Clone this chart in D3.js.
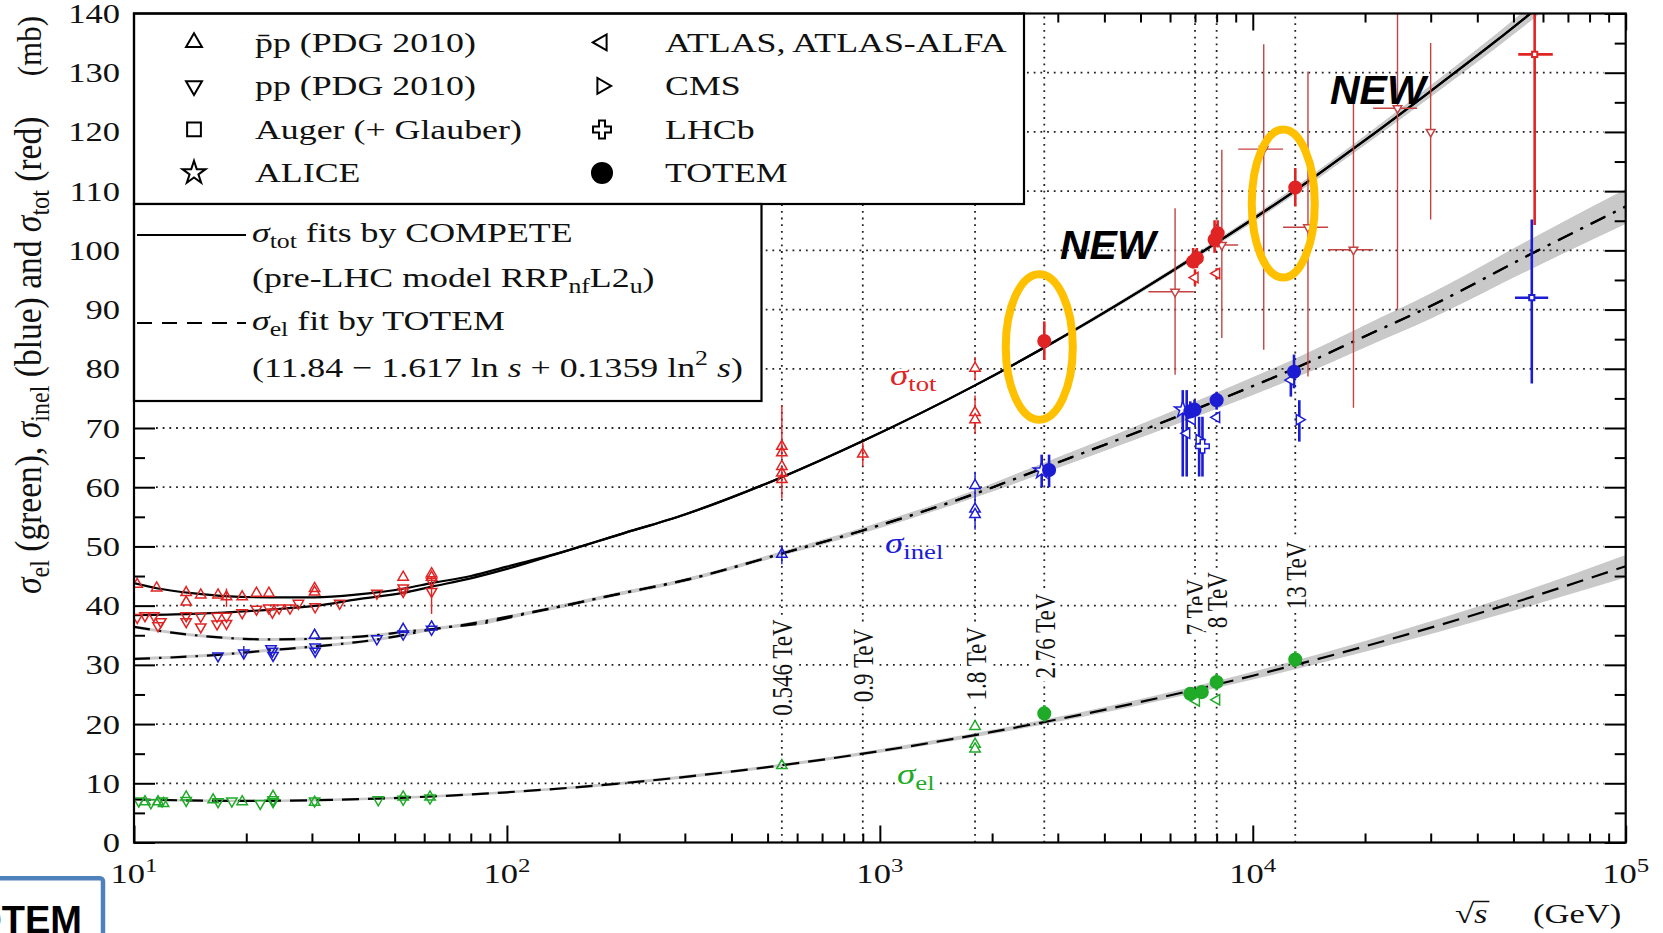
<!DOCTYPE html>
<html>
<head>
<meta charset="utf-8">
<script src="https://cdn.jsdelivr.net/npm/d3@7"></script>
<style>
  body { margin: 0; background: #fff; }
  svg { display: block; }
</style>
</head>
<body>
<svg id="chart" width="1663" height="933"></svg>
<script>
// ---------------------------------------------------------------
// Data: sqrt(s) in GeV, cross sections in mb
// ---------------------------------------------------------------

// Energies of the marked collider runs and their labels
const runEnergies = [546, 900, 1800, 2760, 7000, 8000, 13000];
const runLabels = ["0.546 TeV", "0.9 TeV", "1.8 TeV", "2.76 TeV", "7 TeV", "8 TeV", "13 TeV"];

// Axis ticks
const yTickValues = d3.range(0, 141, 10);
const yMinorValues = d3.range(5, 140, 10);
const xDecades = [1, 2, 3, 4, 5];

// Fitted curves: [sqrt(s), sigma, half-width of uncertainty band]
const totPbarPLow = [[10, 43.8, 0], [11.6, 42.9, 0], [14.3, 42.1, 0], [17.5, 41.6, 0], [22.9, 41.4, 0],
  [30.5, 41.4, 0], [40, 41.9, 0], [53, 42.9, 0], [62.8, 43.8, 0], [80, 45.0, 0], [100, 46.6, 0]];
const totPPLow = [[10, 38.4, 0], [14.3, 38.6, 0], [22.9, 39.3, 0], [30.5, 39.95, 0], [40, 41.1, 0],
  [53, 42.2, 0], [62.8, 43.2, 0], [80, 44.6, 0], [100, 46.2, 0]];
const totHigh = [[140, 49.0, 0], [200, 52.0, 0], [300, 55.4, 0], [546, 61.7, 0], [900, 67.8, 0.05],
  [1800, 77.2, 0.15], [2760, 83.6, 0.25], [5000, 93.2, 0.35], [8000, 101.3, 0.45], [13000, 110.1, 0.6],
  [20000, 118.6, 0.75], [30000, 126.9, 0.95], [45000, 135.4, 1.15], [60000, 141.7, 1.3]];

const inelPbarPLow = [[10, 36.4, 0.25], [14.3, 35.05, 0.25], [22.9, 34.3, 0.25], [30.5, 34.4, 0.25],
  [45.2, 35.05, 0.25], [53.3, 35.6, 0.25], [62.8, 36.0, 0.25], [91, 37.6, 0.25], [100, 38.1, 0.25]];
const inelPPLow = [[10, 31.0, 0.25], [16.8, 31.7, 0.25], [23.5, 32.5, 0.25], [30.5, 33.1, 0.25],
  [45, 34.3, 0.25], [53, 35.05, 0.25], [62.8, 36.0, 0.25], [91, 37.3, 0.25], [100, 37.9, 0.25]];
const inelHigh = [[140, 39.9, 0.3], [200, 42.0, 0.3], [300, 44.3, 0.3], [546, 48.8, 0.35], [900, 52.7, 0.45],
  [1800, 58.9, 0.6], [2760, 63.3, 0.85], [5000, 69.5, 1.1], [8000, 74.6, 1.35], [13000, 80.1, 1.6],
  [20000, 85.5, 1.85], [30000, 90.6, 2.1], [55000, 99.2, 2.5], [100000, 107.4, 2.9]];

const elCurve = [[10, 7.27, 0.2], [20, 7.03, 0.2], [30, 7.13, 0.2], [50, 7.51, 0.2], [100, 8.48, 0.2],
  [200, 9.96, 0.25], [500, 12.73, 0.25], [1000, 15.44, 0.3], [2000, 18.67, 0.35], [5000, 23.73, 0.5],
  [10000, 28.17, 0.65], [20000, 33.13, 0.9], [50000, 40.49, 1.35], [100000, 46.66, 1.9]];

// Measurements: [sqrt(s), sigma, marker, sigma low, sigma high, sqrt(s) low, sqrt(s) high]
// markers: u = pbar-p, d = pp, q = Auger, s = ALICE, l = ATLAS, r = CMS, c = LHCb, o = TOTEM
const totPoints = [
  [10.2, 43.6, "u"], [11.5, 43.0, "u"], [13.8, 42.2, "u"], [13.8, 40.6, "u"], [15.1, 41.8, "u"],
  [16.8, 41.8, "u"], [17.7, 41.5, "u", 39.8, 42.9], [19.5, 41.5, "u"], [21.3, 42.1, "u"], [23.0, 42.1, "u"],
  [30.5, 42.9, "u"], [30.5, 42.3, "u"], [52.7, 44.8, "u"], [62.8, 45.4, "u"], [62.8, 44.8, "u"],
  [546, 66.9, "u", 64.8, 73.9], [546, 65.8, "u"], [546, 63.5, "u"], [546, 62.4, "u"], [546, 61.3, "u", 58.1, 63.0],
  [900, 65.6, "u", 63.6, 67.6], [1800, 80.1, "u", 78.1, 82.0], [1800, 72.6, "u", 70.5, 75.5], [1800, 71.4, "u", 69.0, 73.0],
  [10.2, 38.0, "d"], [10.7, 38.3, "d"], [11.3, 38.3, "d"], [11.8, 37.3, "d"], [11.6, 36.6, "d"],
  [13.8, 38.3, "d"], [13.8, 37.3, "d"], [15.1, 38.2, "d"], [15.1, 36.4, "d"], [16.7, 38.2, "d"],
  [16.7, 36.9, "d"], [17.7, 38.2, "d"], [17.7, 37.0, "d"], [19.5, 38.8, "d"], [21.3, 39.4, "d"],
  [23.0, 39.6, "d"], [23.5, 38.9, "d"], [24.5, 39.6, "d"], [26.2, 39.6, "d"], [27.6, 40.4, "d"],
  [30.6, 39.8, "d"], [35.6, 40.4, "d"], [44.8, 42.1, "d"], [52.7, 43.0, "d"], [52.7, 42.4, "d"],
  [62.8, 44.1, "d"], [62.8, 42.4, "d", 38.6, 45.0],
  [6190, 93.0, "d", 79.0, 107.1, 5250, 6950], [8260, 100.9, "d", 85.2, 117.0, 7925, 9140],
  [10700, 117.1, "d", 83.2, 134.8, 9140, 12060], [14060, 103.9, "d", 78.7, 130.2, 12060, 15920],
  [18620, 100.1, "d", 73.4, 124.9, 15920, 21030], [24440, 124.0, "d", 90.0, 148, 21030, 27590],
  [29990, 120.0, "d", 105.2, 135.0],
  [57000, 133.1, "q", 104.3, 150, 51500, 63750],
  [7000, 95.4, "l", 94.0, 96.8], [8000, 96.1, "l", 95.2, 97.0],
  [2760, 84.7, "o", 81.5, 88.0], [6920, 98.1, "o", 97.0, 100.4], [7080, 98.7, "o", 97.0, 100.4],
  [7900, 101.8, "o", 99.6, 105.1], [8050, 102.9, "o", 100.5, 105.1], [13000, 110.6, "o", 107.4, 113.9]
];

const inelPoints = [
  [30.5, 35.0, "u"], [52.7, 36.0, "u"], [62.8, 36.4, "u"],
  [546, 48.7, "u", 47.0, 50.2], [1800, 60.3, "u", 58.0, 62.6], [1800, 56.3, "u", 52.8, 58.0], [1800, 55.4, "u"],
  [16.8, 31.5, "d"], [19.7, 32.0, "d", 31.2, 33.2], [23.3, 32.7, "d"], [23.5, 32.3, "d"], [23.6, 31.6, "d"],
  [30.6, 33.0, "d"], [30.6, 32.3, "d"], [44.8, 34.4, "d"], [52.7, 35.2, "d"], [62.8, 36.0, "d"],
  [56000, 92.0, "q", 77.5, 105.2, 50470, 61960],
  [2716, 62.8, "s", 60.0, 65.5], [6490, 73.1, "s", 61.8, 76.4],
  [6650, 69.1, "l", 61.8, 76.4], [6880, 71.4, "l"], [8000, 71.8, "l", 71.0, 72.6], [12650, 78.1, "l", 75.3, 79.0],
  [7180, 68.0, "r", 61.8, 71.9], [13330, 71.4, "r", 67.7, 74.7],
  [7330, 66.9, "c", 61.8, 71.9],
  [2843, 62.9, "o", 60.0, 65.5], [6800, 72.8, "o", 71.5, 74.5], [6980, 73.1, "o", 71.5, 74.8],
  [8000, 74.7, "o", 73.1, 76.1], [12900, 79.5, "o", 76.7, 82.4]
];

const elPoints = [
  [10.3, 7.0, "d"], [10.7, 6.9, "u"], [11.1, 6.7, "d"], [11.6, 6.9, "u"], [11.9, 7.0, "d"], [12.0, 6.6, "u"],
  [13.8, 7.7, "u"], [13.8, 7.1, "d"], [16.3, 7.2, "u"], [16.8, 6.9, "d"], [18.3, 7.0, "d"], [19.5, 6.9, "u"],
  [21.8, 6.6, "d"], [23.6, 7.8, "u"], [23.6, 7.2, "d"], [23.6, 6.9, "d"], [30.5, 7.0, "d"], [30.5, 6.8, "u"],
  [45.2, 7.2, "d"], [52.7, 7.7, "u"], [52.7, 7.3, "d"], [62.2, 7.5, "d"], [62.2, 7.7, "u"],
  [546, 13.0, "u"], [1800, 19.6, "u"], [1800, 16.6, "u"], [1800, 15.8, "u"],
  [7060, 23.9, "l"], [8000, 24.1, "l"],
  [2760, 21.8, "o", 20.4, 23.2], [6800, 25.1, "o", 24.0, 26.2], [7300, 25.4, "o", 24.3, 26.5],
  [8000, 27.1, "o", 25.7, 28.5], [13000, 30.9, "o", 29.6, 32.3]
];

// Legend entries
const legendMarkers = ["u", "d", "q", "s", "l", "r", "c", "o"];
const legendNames = ["p\u0304p (PDG 2010)", "pp (PDG 2010)", "Auger (+ Glauber)", "ALICE",
  "ATLAS, ATLAS-ALFA", "CMS", "LHCb", "TOTEM"];

// ---------------------------------------------------------------
// Drawing
// ---------------------------------------------------------------
const SX = 1.28;                       // horizontal widening of the serif lettering
const serif = "'Liberation Serif', 'Times New Roman', serif";
const RED = "#e02424", BLUE = "#1c1cd2", GREEN = "#1faa28";

const svg = d3.select("#chart");
svg.append("rect").attr("width", 1663).attr("height", 933).attr("fill", "#fff");

const x = d3.scaleLog().domain([10, 1e5]).range([134, 1625.7]);
const y = d3.scaleLinear().domain([0, 140]).range([842.5, 13.5]);
const [X0, X1] = x.range(), [Y0, Y1] = y.range();

svg.append("defs").append("clipPath").attr("id", "plotArea")
  .append("rect").attr("x", X0).attr("y", Y1).attr("width", X1 - X0).attr("height", Y0 - Y1);

const plot = svg.append("g").attr("clip-path", "url(#plotArea)");

const line = d3.line().x(d => x(d[0])).y(d => y(d[1])).curve(d3.curveMonotoneX);
const band = d3.area().x(d => x(d[0])).y0(d => y(d[1] - d[2])).y1(d => y(d[1] + d[2])).curve(d3.curveMonotoneX);

const totCurves = [totPbarPLow.concat(totHigh), totPPLow.concat(totHigh)];
const inelCurves = [inelPbarPLow.concat(inelHigh), inelPPLow.concat(inelHigh)];

// uncertainty bands
[...totCurves, ...inelCurves, elCurve].forEach(c => {
  plot.append("path").attr("d", band(c)).attr("fill", "#c9c9c9");
});

// dotted grid
const gridStyle = s => s.attr("stroke", "#222").attr("stroke-width", 1.8)
  .attr("stroke-dasharray", "1.8 4.9").attr("fill", "none");
plot.append("g").selectAll("line").data(yTickValues.filter(v => v > 0 && v < 140)).join("line")
  .attr("x1", X0 + 22).attr("x2", X1 - 22).attr("y1", d => y(d)).attr("y2", d => y(d)).call(gridStyle);
plot.append("g").selectAll("line").data(runEnergies).join("line")
  .attr("x1", d => x(d)).attr("x2", d => x(d)).attr("y1", Y0).attr("y2", Y1).call(gridStyle);

// fitted curves
totCurves.forEach(c => plot.append("path").attr("d", line(c)).attr("fill", "none")
  .attr("stroke", "#000").attr("stroke-width", 2.2));
inelCurves.forEach(c => plot.append("path").attr("d", line(c)).attr("fill", "none")
  .attr("stroke", "#000").attr("stroke-width", 2.2).attr("stroke-dasharray", "16 9 2.5 9"));
plot.append("path").attr("d", line(elCurve)).attr("fill", "none")
  .attr("stroke", "#000").attr("stroke-width", 2.2).attr("stroke-dasharray", "17 9");

// marker shapes
function markerPath(m, r) {
  const tri = a0 => "M" + [0, 1, 2].map(i => {
    const a = (a0 + i * 120) * Math.PI / 180;
    return [r * Math.cos(a), r * Math.sin(a)].map(v => v.toFixed(2)).join(",");
  }).join("L") + "Z";
  switch (m) {
    case "u": return tri(-90);
    case "d": return tri(90);
    case "l": return tri(180);
    case "r": return tri(0);
    case "q": return d3.symbol(d3.symbolSquare, (1.45 * r) ** 2)();
    case "s": return d3.symbol(d3.symbolStar, r * r * 2.3)();
    case "c": return d3.symbol(d3.symbolCross, r * r * 2.8)();
    default: return d3.symbol(d3.symbolCircle, Math.PI * r * r)();
  }
}

function drawPoints(points, color) {
  const g = plot.append("g");
  points.forEach(p => {
    const [e, v, m, lo, hi, eLo, eHi] = p;
    const cosmic = m === "d" && e > 1000;
    const lhc = e >= 2000 && !cosmic;
    const w = cosmic ? 1.4 : lhc ? 2.6 : 1.4;
    const c = cosmic ? "#c44444" : color;
    if (lo !== undefined) {
      g.append("line").attr("x1", x(e)).attr("x2", x(e)).attr("y1", y(lo)).attr("y2", y(hi))
        .attr("stroke", c).attr("stroke-width", w);
    }
    if (eLo !== undefined) {
      g.append("line").attr("x1", x(eLo)).attr("x2", x(eHi)).attr("y1", y(v)).attr("y2", y(v))
        .attr("stroke", c).attr("stroke-width", w);
    }
  });
  points.forEach(p => {
    const [e, v, m] = p;
    const cosmic = m === "d" && e > 1000;
    const r = m === "o" ? 6.3 : m === "q" ? 3.6 : cosmic ? 5 : 6;
    g.append("path").attr("d", markerPath(m, r))
      .attr("transform", `translate(${x(e)},${y(v)})`)
      .attr("fill", m === "o" ? color : (e >= 1000 ? "#fff" : "none"))
      .attr("stroke", cosmic ? "#c44444" : color).attr("stroke-width", m === "q" ? 2 : 1.5);
  });
}
drawPoints(totPoints, RED);
drawPoints(inelPoints, BLUE);
drawPoints(elPoints, GREEN);

// helpers for lettering
function rich(sel, parts, F) {
  let shift = 0;
  parts.forEach(p => {
    const target = p.sub ? 0.22 * F : p.sup ? -0.4 * F : 0;
    const ts = sel.append("tspan").text(p.t).attr("dy", target - shift);
    if (p.sub || p.sup) ts.attr("font-size", 0.72 * F);
    if (p.it) ts.attr("font-style", "italic");
    shift = target;
  });
  return sel;
}
function stext(parent, px, py, F, anchor, rotate, widen) {
  return parent.append("text")
    .attr("transform", `translate(${px},${py}) scale(${widen || SX},1)` + (rotate ? " rotate(-90)" : ""))
    .attr("font-family", serif).attr("font-size", F).attr("text-anchor", anchor || "start")
    .attr("fill", "#111");
}

// run-energy labels along the dotted verticals
const runLabelStart = [21.4, 23.7, 24.0, 27.7, 35.0, 36.2, 39.4];
runEnergies.forEach((e, i) => {
  const g = svg.append("g").attr("transform", `translate(${x(e)},${y(runLabelStart[i])}) scale(${SX},1) rotate(-90)`);
  const t = g.append("text").attr("font-family", serif).attr("font-size", 23).attr("dy", "0.36em")
    .attr("fill", "#111").text(runLabels[i]);
  const len = t.node().getComputedTextLength();
  g.insert("rect", "text").attr("x", -3).attr("y", -11).attr("width", len + 6).attr("height", 22).attr("fill", "#fff");
});

// curve names
const nameLabel = (px, py, sub, color) => rich(stext(svg, px, py, 29).attr("fill", color)
  .attr("stroke", "#fff").attr("stroke-width", 5).attr("paint-order", "stroke"),
  [{ t: "σ", it: true }, { t: sub, sub: true }], 29);
nameLabel(890, 385, "tot", RED);
nameLabel(885, 553, "inel", BLUE);
nameLabel(897, 784, "el", GREEN);

// axes ticks (inward)
function tickAxis(axis, values, size, tr) {
  svg.append("g").attr("transform", tr)
    .call(axis.tickValues(values).tickSize(size).tickFormat(""))
    .call(g => g.select(".domain").remove())
    .call(g => g.selectAll("line").attr("stroke", "#000").attr("stroke-width", 2));
}
const xMajor = xDecades.map(k => 10 ** k);
const xMinor = [];
xDecades.slice(0, 4).forEach(k => { for (let j = 2; j <= 9; j++) xMinor.push(j * 10 ** k); });
tickAxis(d3.axisRight(y), yTickValues, 21, `translate(${X0},0)`);
tickAxis(d3.axisRight(y), yMinorValues, 11, `translate(${X0},0)`);
tickAxis(d3.axisLeft(y), yTickValues, 21, `translate(${X1},0)`);
tickAxis(d3.axisLeft(y), yMinorValues, 11, `translate(${X1},0)`);
tickAxis(d3.axisTop(x), xMajor, 17, `translate(0,${Y0})`);
tickAxis(d3.axisTop(x), xMinor, 9, `translate(0,${Y0})`);
tickAxis(d3.axisBottom(x), xMajor, 17, `translate(0,${Y1})`);
tickAxis(d3.axisBottom(x), xMinor, 9, `translate(0,${Y1})`);

// legend boxes
const legTop = Y1, legSep = 204, legRight = 1024, leg2Right = 761.5, leg2Bottom = 401;
svg.append("rect").attr("x", X0).attr("y", legTop).attr("width", legRight - X0).attr("height", legSep - legTop)
  .attr("fill", "#fff").attr("stroke", "#000").attr("stroke-width", 2.2);
svg.append("rect").attr("x", X0).attr("y", legSep).attr("width", leg2Right - X0).attr("height", leg2Bottom - legSep)
  .attr("fill", "#fff").attr("stroke", "#000").attr("stroke-width", 2.2);

const LF = 28;
const rowY = [42.4, 85.9, 129.4, 172.9];
legendMarkers.forEach((m, i) => {
  const col = Math.floor(i / 4), row = i % 4;
  const sx = [194, 602][col], tx = [255, 665][col];
  const r = m === "o" ? 10 : m === "q" ? 9.5 : m === "s" ? 8.5 : m === "c" ? 8 : 9.2;
  svg.append("path").attr("d", markerPath(m, r)).attr("transform", `translate(${sx},${rowY[row]})`)
    .attr("fill", m === "o" ? "#000" : "none").attr("stroke", "#000").attr("stroke-width", 2);
  stext(svg, tx, rowY[row] + 9.5, LF).text(legendNames[i]);
});

const lowRows = [232, 277, 320, 367];
svg.append("line").attr("x1", 137).attr("x2", 246).attr("y1", lowRows[0] + 3).attr("y2", lowRows[0] + 3)
  .attr("stroke", "#000").attr("stroke-width", 1.8);
svg.append("line").attr("x1", 137).attr("x2", 246).attr("y1", lowRows[2] + 3).attr("y2", lowRows[2] + 3)
  .attr("stroke", "#000").attr("stroke-width", 1.8).attr("stroke-dasharray", "15 10");
rich(stext(svg, 252, lowRows[0] + 9.5, LF), [{ t: "σ", it: true }, { t: "tot", sub: true }, { t: " fits by COMPETE" }], LF);
rich(stext(svg, 252, lowRows[1] + 9.5, LF), [{ t: "(pre-LHC model RRP" }, { t: "nf", sub: true }, { t: "L2" }, { t: "u", sub: true }, { t: ")" }], LF);
rich(stext(svg, 252, lowRows[2] + 9.5, LF), [{ t: "σ", it: true }, { t: "el", sub: true }, { t: " fit by TOTEM" }], LF);
rich(stext(svg, 252, lowRows[3] + 9.5, LF), [{ t: "(11.84 − 1.617 ln " }, { t: "s", it: true }, { t: " + 0.1359 ln" },
  { t: "2", sup: true }, { t: " " }, { t: "s", it: true }, { t: ")" }], LF);

// frame
svg.append("rect").attr("x", X0).attr("y", Y1).attr("width", X1 - X0).attr("height", Y0 - Y1)
  .attr("fill", "none").attr("stroke", "#000").attr("stroke-width", 2.2);

// tick labels
yTickValues.forEach(v => stext(svg, 120, y(v) + 9.5, 27, "end").text(v));
xDecades.forEach(k => rich(stext(svg, x(10 ** k), 883, 27, "middle"), [{ t: "10" }, { t: String(k), sup: true }], 27));

// axis titles
rich(stext(svg, 41, 594, 33.5, "start", true, 1.1),
  [{ t: "σ", it: true }, { t: "el", sub: true }, { t: " (green), " }, { t: "σ", it: true }, { t: "inel", sub: true },
   { t: " (blue) and " }, { t: "σ", it: true }, { t: "tot", sub: true }, { t: " (red)" }], 33.5);
stext(svg, 41, 16, 31, "end", true, 1.1).text("(mb)");

const sq = stext(svg, 1455, 923, 27);
sq.append("tspan").text("√");
sq.append("tspan").attr("font-style", "italic").text("s");
{
  const n = sq.node();
  const wRoot = n.getSubStringLength(0, 1) * SX, wAll = n.getComputedTextLength() * SX;
  svg.append("line").attr("x1", 1455 + wRoot - 1).attr("x2", 1455 + wAll + 2).attr("y1", 901.5).attr("y2", 901.5)
    .attr("stroke", "#111").attr("stroke-width", 1.5);
}
stext(svg, 1533, 923, 27).text("(GeV)");

// highlight of the new TOTEM measurements
const newPts = totPoints.filter(p => p[2] === "o" && (p[0] === 2760 || p[0] === 13000));
const ellipseOffsets = [[-5, 6, 33.5, 72.7], [-12, 16, 31.5, 74]];
newPts.forEach((p, i) => {
  const [dx, dy, rx, ry] = ellipseOffsets[i];
  svg.append("ellipse").attr("cx", x(p[0]) + dx).attr("cy", y(p[1]) + dy).attr("rx", rx).attr("ry", ry)
    .attr("fill", "none").attr("stroke", "#ffc000").attr("stroke-width", 8);
});
[[1060, 258.5], [1330, 104]].forEach(([px, py]) => {
  svg.append("text").attr("x", px).attr("y", py).attr("font-family", "'Liberation Sans', Arial, sans-serif")
    .attr("font-weight", "bold").attr("font-style", "italic").attr("font-size", 41).attr("fill", "#000").text("NEW");
});

// caption tab at the lower left
svg.append("rect").attr("x", -20).attr("y", 878.3).attr("width", 123).attr("height", 90).attr("rx", 3)
  .attr("fill", "#fff").attr("stroke", "#4f81bd").attr("stroke-width", 4.5);
svg.append("text").attr("x", 82).attr("y", 933).attr("text-anchor", "end")
  .attr("font-family", "'Liberation Sans', Arial, sans-serif").attr("font-weight", "bold")
  .attr("font-size", 38).attr("fill", "#000").text("TOTEM");
</script>
</body>
</html>
